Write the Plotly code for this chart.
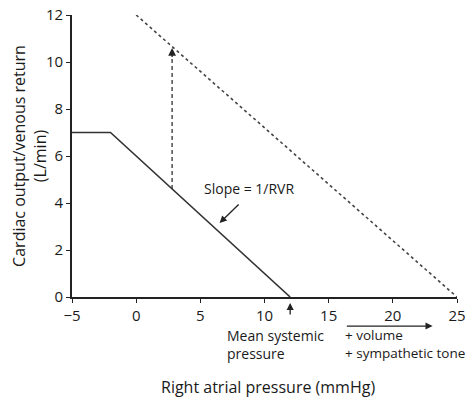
import plotly.graph_objects as go

# Data
venous_x = [-5, -2, 12]
venous_y = [7, 7, 0]
shifted_x = [0, 25]
shifted_y = [12, 0]
jump_x = 2.8
jump_y = [4.6, 10.6]
x_ticks = [-5, 0, 5, 10, 15, 20, 25]
y_ticks = [0, 2, 4, 6, 8, 10, 12]
msp_x = 12

FONT = "Open Sans"
INK = "#1a1a1a"

fig = go.Figure()
fig.add_trace(go.Scatter(x=shifted_x, y=shifted_y, mode="lines",
                         line=dict(color="#444444", width=1.6, dash="3px,3px"),
                         hoverinfo="skip", cliponaxis=False))
fig.add_trace(go.Scatter(x=venous_x, y=venous_y, mode="lines",
                         line=dict(color="#333333", width=1.6),
                         hoverinfo="skip", cliponaxis=False))
fig.add_trace(go.Scatter(x=[jump_x, jump_x], y=[jump_y[0], jump_y[1] - 0.4], mode="lines",
                         line=dict(color="#333333", width=1.3, dash="4px,3px"),
                         hoverinfo="skip"))

ann = []
# vertical arrow head
ann.append(dict(x=jump_x, y=jump_y[1], ax=jump_x, ay=jump_y[1] - 0.45,
                xref="x", yref="y", axref="x", ayref="y", text="",
                showarrow=True, arrowhead=2, arrowsize=1.2, arrowwidth=1.3, arrowcolor="#222"))
# slope label
ann.append(dict(x=8.8, y=4.6, xref="x", yref="y", xanchor="center", yanchor="middle",
                text="Slope = 1/RVR", showarrow=False,
                font=dict(family=FONT, size=14, color=INK)))
ann.append(dict(x=6.5, y=3.15, ax=8.1, ay=4.0, xref="x", yref="y", axref="x", ayref="y",
                text="", showarrow=True, arrowhead=2, arrowsize=1.1, arrowwidth=1.3,
                arrowcolor="#222"))
# mean systemic pressure arrow (below axis -> y domain)
ann.append(dict(x=msp_x, y=-0.021, ax=msp_x, ay=-0.067, xref="x", yref="y domain",
                axref="x", ayref="y domain", text="", showarrow=True, arrowhead=2,
                arrowsize=1.1, arrowwidth=1.3, arrowcolor="#222"))
ann.append(dict(x=6.95, y=-0.167, xref="x", yref="y domain", xanchor="left", yanchor="middle",
                align="left", text="Mean systemic<br>pressure", showarrow=False,
                font=dict(family=FONT, size=14, color=INK)))
# volume arrow
ann.append(dict(x=23.1, y=-0.103, ax=16.3, ay=-0.103, xref="x", yref="y domain",
                axref="x", ayref="y domain", text="", showarrow=True, arrowhead=2,
                arrowsize=1.1, arrowwidth=1.3, arrowcolor="#222"))
ann.append(dict(x=16.15, y=-0.167, xref="x", yref="y domain", xanchor="left", yanchor="middle",
                align="left", text="+ volume<br>+ sympathetic tone", showarrow=False,
                font=dict(family=FONT, size=13.5, color=INK)))
# axis titles
ann.append(dict(x=0.509, y=-0.318, xref="paper", yref="paper", xanchor="center",
                yanchor="middle", text="Right atrial pressure (mmHg)",
                showarrow=False, font=dict(family=FONT, size=16, color=INK)))
ann.append(dict(x=-0.112, y=0.5, xref="paper", yref="paper", xanchor="center",
                yanchor="middle", textangle=-90,
                text="Cardiac output/venous return<br>(L/min)",
                showarrow=False, font=dict(family=FONT, size=16, color=INK)))

fig.update_layout(
    width=470, height=398,
    margin=dict(l=72, r=13, t=15, b=101, autoexpand=False),
    paper_bgcolor="white", plot_bgcolor="white",
    showlegend=False,
    annotations=ann,
    font=dict(family=FONT, size=14, color=INK),
    xaxis=dict(range=[-5, 25], tickvals=x_ticks, showgrid=False, zeroline=False,
               showline=True, linecolor="#222", linewidth=1.6, ticks="outside",
               ticklen=4, tickcolor="#222", tickwidth=1.3, fixedrange=True,
               tickfont=dict(size=15), automargin=False),
    yaxis=dict(range=[0, 12], tickvals=y_ticks, showgrid=False, zeroline=False,
               showline=True, linecolor="#222", linewidth=1.6, ticks="outside",
               ticklen=4, tickcolor="#222", tickwidth=1.3, fixedrange=True,
               tickfont=dict(size=15), automargin=False),
)

fig.write_html("out.html")
